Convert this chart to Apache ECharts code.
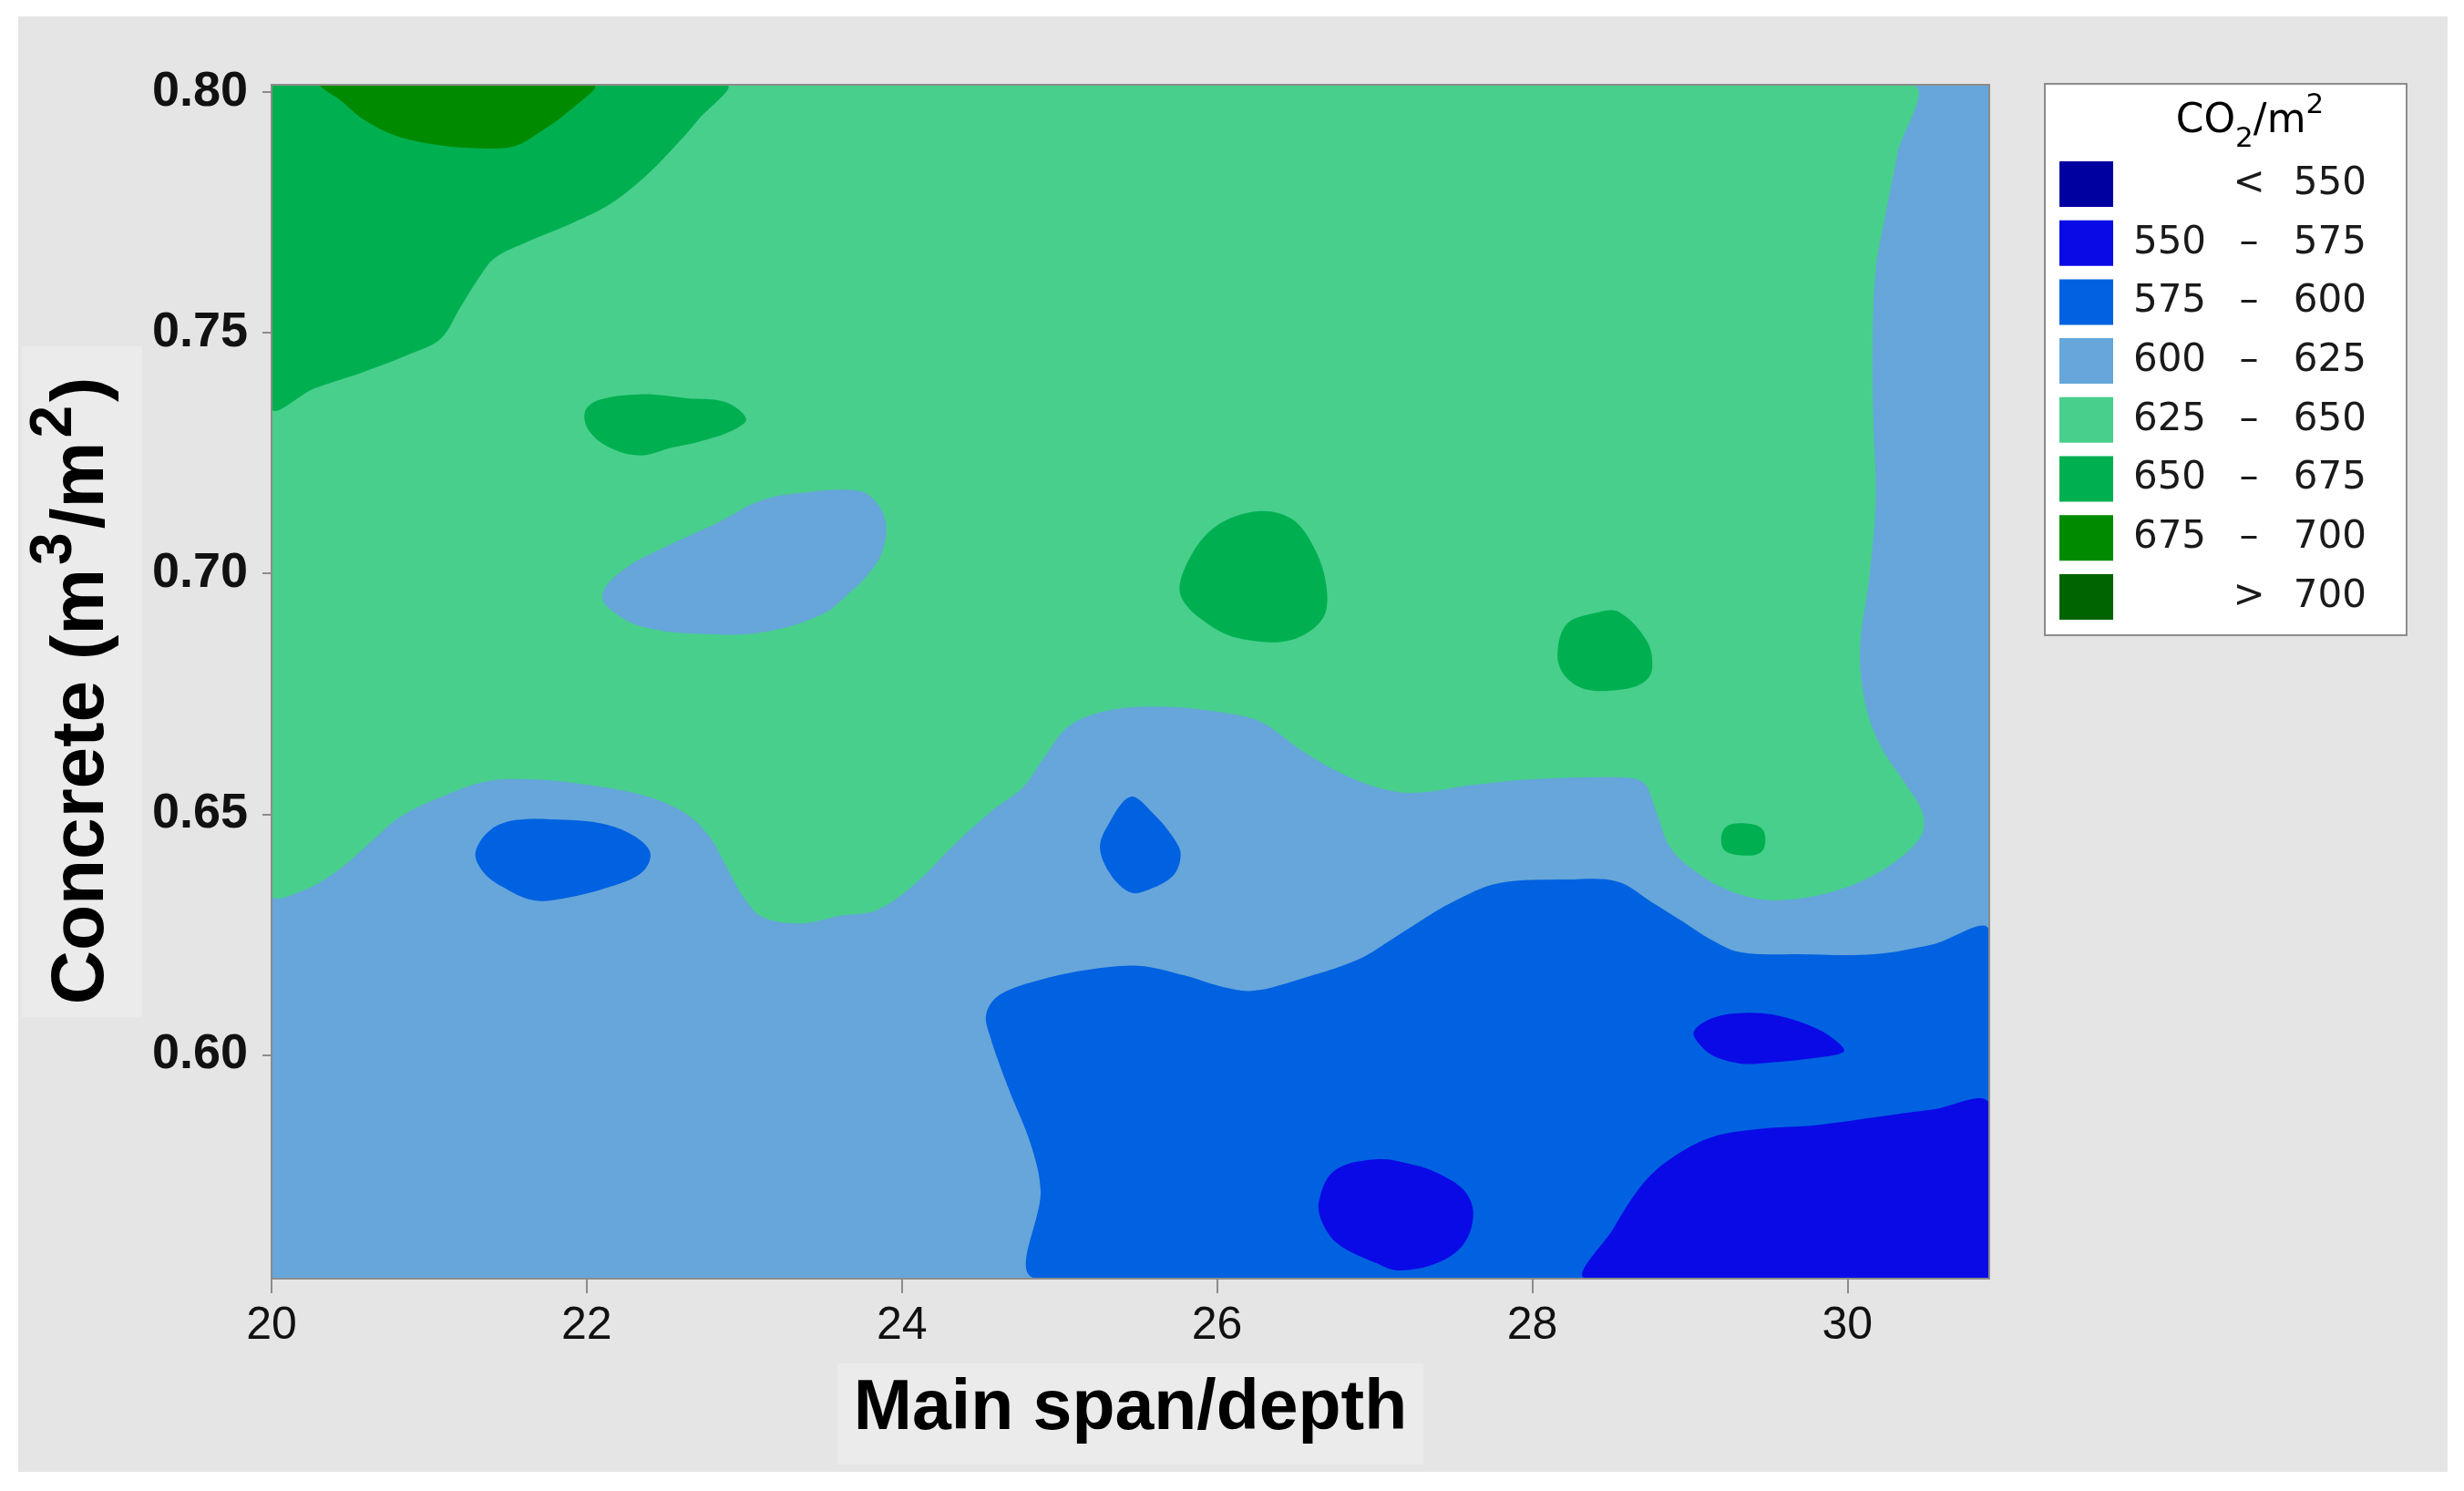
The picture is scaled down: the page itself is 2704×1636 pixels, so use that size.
<!DOCTYPE html>
<html>
<head>
<meta charset="utf-8">
<script src="https://cdn.jsdelivr.net/npm/echarts@6/dist/echarts.min.js"></script>
<style>
html, body { margin: 0; padding: 0; background: #ffffff; }
#chart { width: 2704px; height: 1636px; }
</style>
</head>
<body>
<div id="chart"></div>
<script>
// ---------------- data ----------------
const xTicks = [20, 22, 24, 26, 28, 30];
const yTicks = [0.60, 0.65, 0.70, 0.75, 0.80];
const xExtent = [20, 30.9];
const yExtent = [0.5535, 0.8015];

const bandLow  = [null, 550, 575, 600, 625, 650, 675, 700];
const bandHigh = [550, 575, 600, 625, 650, 675, 700, null];
const bandNames = bandLow.map((lo, i) => lo === null ? '< ' + bandHigh[i]
  : (bandHigh[i] === null ? '> ' + lo : lo + ' – ' + bandHigh[i]));

// contour regions (x = main span/depth, y = concrete m3/m2)
const band600Base = [[20, 0.5535], [30.9, 0.5535], [30.9, 0.8015], [20, 0.8015]];

const band625Main = [[20, 0.8015], [30.40, 0.8015], [30.318, 0.7871], [30.245, 0.7751], [30.180, 0.7631],
  [30.160, 0.7472], [30.165, 0.7313], [30.180, 0.7153], [30.140, 0.6994], [30.08, 0.6840], [30.120, 0.6720],
  [30.221, 0.6635], [30.367, 0.6564], [30.480, 0.6500], [30.464, 0.6452], [30.245, 0.6388], [29.928, 0.6341],
  [29.563, 0.6321], [29.319, 0.6333], [29.075, 0.6372], [28.881, 0.6428], [28.783, 0.6508], [28.710, 0.6564],
  [28.564, 0.6576], [27.979, 0.6572], [27.613, 0.6560], [27.25, 0.6544], [27.011, 0.6556], [26.768, 0.6588],
  [26.524, 0.6635], [26.280, 0.6691], [26.037, 0.6711], [25.671, 0.6723], [25.306, 0.6715], [25.062, 0.6683],
  [24.891, 0.6612], [24.770, 0.6556], [24.575, 0.6508], [24.331, 0.6436], [24.087, 0.6356], [23.844, 0.6301],
  [23.609, 0.6289], [23.365, 0.6273], [23.122, 0.6285], [23.000, 0.6325], [22.878, 0.6396], [22.781, 0.6452],
  [22.634, 0.6500], [22.390, 0.6536], [22.025, 0.6560], [21.660, 0.6572], [21.367, 0.6568], [21.051, 0.6532],
  [20.807, 0.6492], [20.636, 0.6444], [20.441, 0.6388], [20.198, 0.6341], [20, 0.6334]];

const band600Hole = [[22.098, 0.6954], [22.244, 0.7010], [22.512, 0.7057], [22.829, 0.7105], [23.122, 0.7153],
  [23.414, 0.7169], [23.682, 0.7173], [23.795, 0.7161], [23.892, 0.7113], [23.880, 0.7050], [23.795, 0.7002],
  [23.649, 0.6954], [23.487, 0.6914], [23.122, 0.6878], [22.756, 0.6874], [22.390, 0.6886], [22.196, 0.6914]];

const band650TopLeft = [[20, 0.8015], [22.88, 0.8015], [22.707, 0.7942], [22.537, 0.7879], [22.366, 0.7823],
  [22.147, 0.7767], [21.903, 0.7727], [21.611, 0.7687], [21.416, 0.7655], [21.318, 0.7615], [21.197, 0.7552],
  [21.075, 0.7488], [20.880, 0.7456], [20.563, 0.7416], [20.271, 0.7384], [20, 0.7345]];
const band650Left = [[21.989, 0.7336], [22.074, 0.7360], [22.342, 0.7372], [22.634, 0.7364], [22.878, 0.7356],
  [23.012, 0.7321], [22.927, 0.7297], [22.707, 0.7273], [22.537, 0.7261], [22.342, 0.7245], [22.147, 0.7261],
  [22.013, 0.7297]];
const band650Mid = [[25.769, 0.6954], [25.817, 0.7026], [25.988, 0.7097], [26.256, 0.7129], [26.475, 0.7113],
  [26.621, 0.7050], [26.695, 0.6970], [26.670, 0.6906], [26.475, 0.6862], [26.183, 0.6862], [25.964, 0.6890]];
const band650Right = [[28.16, 0.6834], [28.22, 0.6895], [28.40, 0.6918], [28.55, 0.6920], [28.73, 0.6858],
  [28.76, 0.6800], [28.70, 0.6772], [28.55, 0.6758], [28.33, 0.6760], [28.20, 0.6790]];
const band650Dot = [[29.20, 0.6455], [29.24, 0.6476], [29.34, 0.6481], [29.45, 0.6472], [29.48, 0.6447],
  [29.45, 0.6420], [29.34, 0.6414], [29.22, 0.6425]];

const band675Top = [[20.32, 0.8015], [20.441, 0.7982], [20.588, 0.7942], [20.782, 0.7910], [21.050, 0.7890],
  [21.318, 0.7883], [21.538, 0.7887], [21.708, 0.7918], [21.879, 0.7958], [22.04, 0.8015]];

const band575Left = [[21.294, 0.6420], [21.392, 0.6468], [21.562, 0.6488], [21.855, 0.6488], [22.098, 0.6480],
  [22.293, 0.6456], [22.403, 0.6420], [22.354, 0.6380], [22.147, 0.6349], [21.855, 0.6325], [21.660, 0.6321],
  [21.465, 0.6349], [21.343, 0.6380]];
const band575Drop = [[25.452, 0.6536], [25.598, 0.6500], [25.720, 0.6452], [25.769, 0.6416], [25.720, 0.6372],
  [25.549, 0.6341], [25.452, 0.6337], [25.330, 0.6372], [25.257, 0.6428], [25.306, 0.6476]];
const band575Bottom = [[24.86, 0.5535], [24.88, 0.5719], [24.818, 0.5814], [24.672, 0.5934], [24.560, 0.6038],
  [24.535, 0.6085], [24.623, 0.6125], [24.891, 0.6157], [25.184, 0.6177], [25.501, 0.6185], [25.793, 0.6165],
  [26.037, 0.6141], [26.232, 0.6133], [26.524, 0.6157], [26.889, 0.6197], [27.133, 0.6245], [27.30, 0.6280],
  [27.492, 0.6317], [27.784, 0.6356], [28.223, 0.6364], [28.539, 0.6360], [28.759, 0.6317], [28.954, 0.6277],
  [29.124, 0.6241], [29.319, 0.6213], [29.685, 0.6209], [30.172, 0.6209], [30.537, 0.6229], [30.9, 0.6257],
  [30.9, 0.5535]];

const band550Mid = [[26.646, 0.5695], [26.743, 0.5759], [27.011, 0.5783], [27.25, 0.5771], [27.394, 0.5755],
  [27.565, 0.5719], [27.626, 0.5671], [27.565, 0.5607], [27.394, 0.5567], [27.15, 0.5552], [27.011, 0.5567],
  [26.768, 0.5607], [26.67, 0.5650]];
const band550Right = [[29.027, 0.6050], [29.149, 0.6077], [29.344, 0.6087], [29.563, 0.6081], [29.807, 0.6054],
  [29.953, 0.6022], [29.977, 0.6006], [29.807, 0.5994], [29.441, 0.5982], [29.319, 0.5982], [29.149, 0.5998],
  [29.051, 0.6026]];
const band550Corner = [[28.345, 0.5535], [28.515, 0.5639], [28.710, 0.5735], [28.905, 0.5790], [29.149, 0.5830],
  [29.441, 0.5846], [29.807, 0.5854], [30.172, 0.5870], [30.537, 0.5886], [30.9, 0.5898], [30.9, 0.5535]];

// ---------------- styles ----------------
const bandColors = ['#0000a0', '#0a0ae6', '#0062e0', '#66a6da', '#48cf8c', '#00b050', '#008a00', '#006400'];

// painting order of the filled contour regions: [band index, polygons, z, smooth]
const layers = [
  [3, [band600Base], 2, 0],
  [4, [band625Main], 3, 0.35],
  [3, [band600Hole], 4, 0.4],
  [5, [band650TopLeft, band650Left, band650Mid, band650Right, band650Dot], 5, 0.35],
  [6, [band675Top], 6, 0.35],
  [7, [], 7, 0.35],
  [2, [band575Left, band575Drop, band575Bottom], 4, 0.35],
  [1, [band550Mid, band550Right, band550Corner], 5, 0.35],
  [0, [], 6, 0.35]
];

const series = layers.map(([bi, polys, z, smooth]) => ({
  type: 'custom',
  name: bandNames[bi],
  coordinateSystem: 'cartesian2d',
  clip: true,
  silent: true,
  z: z,
  itemStyle: { color: bandColors[bi] },
  data: polys.map(p => p[0]),
  renderItem: function (params, api) {
    const poly = polys[params.dataIndex];
    const cs = params.coordSys;
    const pts = poly.map(p => api.coord(p));
    return {
      type: 'polygon',
      shape: {
        points: pts,
        smooth: smooth,
        smoothConstraint: [[cs.x, cs.y], [cs.x + cs.width, cs.y + cs.height]]
      },
      style: { fill: bandColors[bi], stroke: null }
    };
  }
}));

const legendFont = { fontSize: 42, lineHeight: 50, fontFamily: 'DejaVu Sans', color: '#1a1a1a' };
const legendRich = {
  a: Object.assign({ width: 114, align: 'right' }, legendFont),
  d: Object.assign({ width: 60, align: 'center' }, legendFont),
  b: Object.assign({ width: 99, align: 'right' }, legendFont)
};

const chart = echarts.init(document.getElementById('chart'), null, { renderer: 'canvas' });
chart.setOption({
  animation: false,
  backgroundColor: '#ffffff',
  graphic: [
    { type: 'rect', left: 20, top: 18, z: -100, silent: true,
      shape: { width: 2666, height: 1597 }, style: { fill: '#e5e5e5' } },
    { type: 'text', x: 2469, y: 100, z: 100, silent: true,
      style: {
        text: '{n|CO}{s|2}{n|/m}{p|2}', align: 'center', verticalAlign: 'top',
        rich: {
          n: { fontSize: 44, lineHeight: 68, fontFamily: 'DejaVu Sans', color: '#1a1a1a' },
          s: { fontSize: 31, lineHeight: 31, verticalAlign: 'bottom', fontFamily: 'DejaVu Sans', color: '#1a1a1a' },
          p: { fontSize: 31, lineHeight: 31, verticalAlign: 'top', fontFamily: 'DejaVu Sans', color: '#1a1a1a' }
        }
      } }
  ],
  grid: {
    left: 298, right: 521, top: 93, bottom: 233,
    show: true, borderColor: '#8c8c8c', borderWidth: 2, backgroundColor: 'transparent',
    z: 20, containLabel: false, outerBoundsMode: 'none'
  },
  legend: {
    orient: 'vertical', left: 2244, top: 92,
    padding: [85, 44, 17, 16],
    itemWidth: 59, itemHeight: 50, itemGap: 14.7,
    icon: 'rect', selectedMode: false,
    backgroundColor: '#ffffff', borderColor: '#8c8c8c', borderWidth: 2, borderRadius: 0,
    data: bandNames,
    formatter: function (name) {
      const i = bandNames.indexOf(name);
      const lo = bandLow[i], hi = bandHigh[i];
      if (lo === null) return '{a| }{d|<}{b|' + hi + '}';
      if (hi === null) return '{a| }{d|>}{b|' + lo + '}';
      return '{a|' + lo + '}{d|–}{b|' + hi + '}';
    },
    textStyle: Object.assign({ rich: legendRich }, legendFont)
  },
  xAxis: {
    type: 'value', min: xExtent[0], max: xExtent[1],
    axisLine: { show: false },
    splitLine: { show: false },
    axisTick: { show: true, length: 16, customValues: xTicks, lineStyle: { color: '#8c8c8c', width: 2 } },
    axisLabel: { customValues: xTicks, fontSize: 50, fontFamily: 'Liberation Sans', color: '#111111', margin: 27 },
    name: 'Main span/depth', nameLocation: 'middle', nameGap: 93,
    nameTextStyle: { fontSize: 77, fontWeight: 'bold', fontFamily: 'Liberation Sans', color: '#000000',
      backgroundColor: '#ebebeb', padding: [12, 18, 22, 18] }
  },
  yAxis: {
    type: 'value', min: yExtent[0], max: yExtent[1],
    axisLine: { show: false },
    splitLine: { show: false },
    axisTick: { show: true, length: 10, customValues: yTicks, lineStyle: { color: '#8c8c8c', width: 2 } },
    axisLabel: { customValues: yTicks, formatter: v => v.toFixed(2), fontSize: 54, fontWeight: 'bold',
      fontFamily: 'Liberation Sans', color: '#111111', margin: 26 },
    name: '{n|Concrete (m}{p|3}{n|/m}{p|2}{n|)}', nameLocation: 'middle', nameGap: 125,
    nameTextStyle: {
      backgroundColor: '#ebebeb', padding: [4, 34, 4, 14],
      rich: {
        n: { fontSize: 82, fontWeight: 'bold', lineHeight: 124, fontFamily: 'Liberation Sans', color: '#000000' },
        p: { fontSize: 64, fontWeight: 'bold', lineHeight: 64, verticalAlign: 'top', padding: [0, 4, 0, 4],
             fontFamily: 'Liberation Sans', color: '#000000' }
      }
    }
  },
  series: series
});
</script>
</body>
</html>
